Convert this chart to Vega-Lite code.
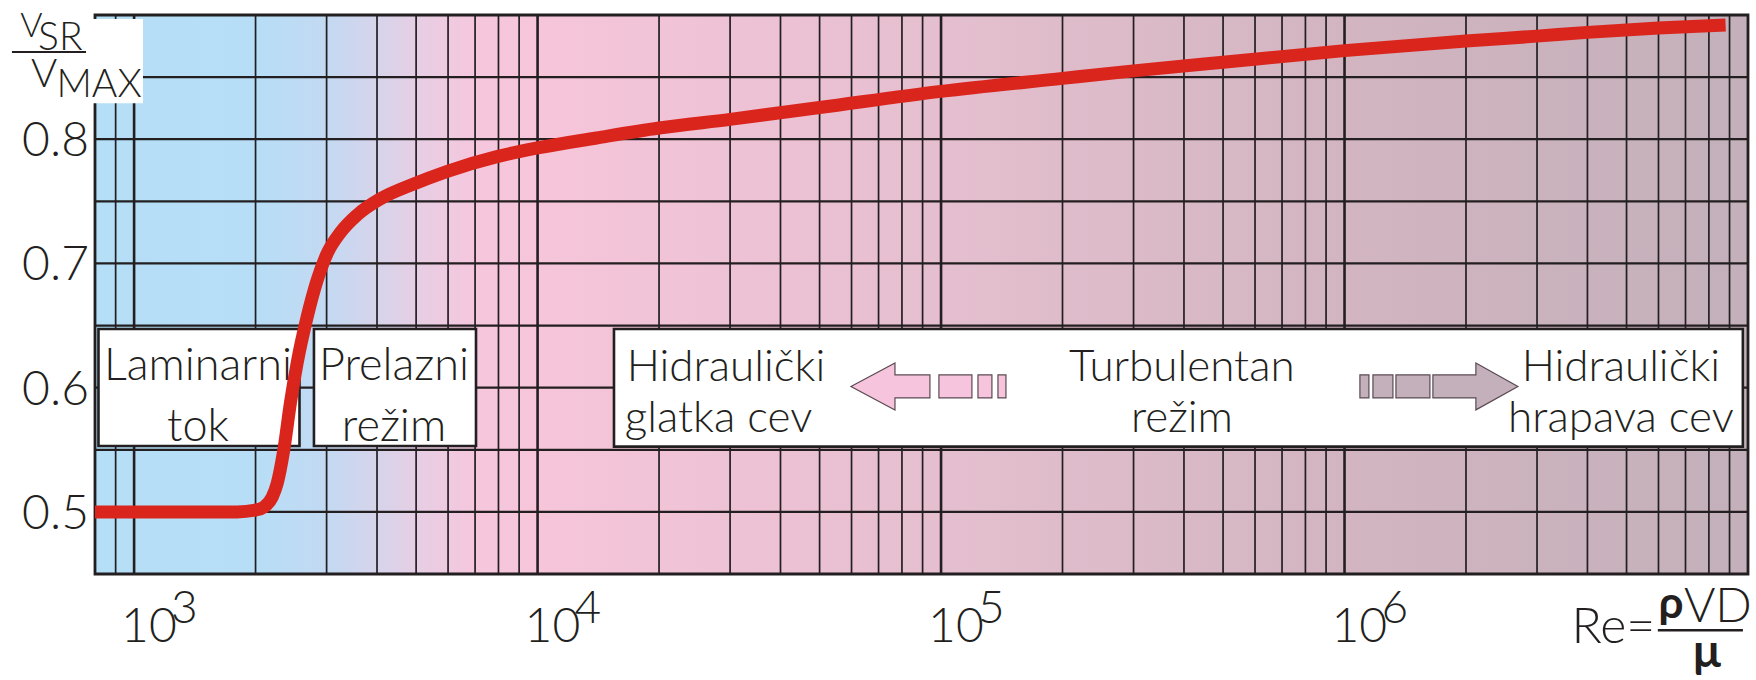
{
  "$schema": "https://vega.github.io/schema/vega-lite/v6.json",
  "width": 1653,
  "height": 559,
  "autosize": {"type": "none"},
  "padding": {"left": 95, "top": 15, "right": 8, "bottom": 106},
  "background": "white",
  "config": {"view": {"stroke": null}},
  "datasets": {
    "curve": [
      {"Re": 800, "v": 0.5}, {"Re": 1300, "v": 0.5}, {"Re": 1800, "v": 0.5}, {"Re": 2000, "v": 0.5015},
      {"Re": 2100, "v": 0.504}, {"Re": 2200, "v": 0.512}, {"Re": 2263, "v": 0.523}, {"Re": 2350, "v": 0.55},
      {"Re": 2441, "v": 0.588}, {"Re": 2536, "v": 0.62}, {"Re": 2685, "v": 0.657}, {"Re": 2842, "v": 0.6865},
      {"Re": 3009, "v": 0.708}, {"Re": 3247, "v": 0.725}, {"Re": 3570, "v": 0.739}, {"Re": 4077, "v": 0.752},
      {"Re": 4932, "v": 0.764}, {"Re": 5950, "v": 0.774}, {"Re": 7929, "v": 0.786}, {"Re": 10000, "v": 0.793},
      {"Re": 14000, "v": 0.801}, {"Re": 20000, "v": 0.809}, {"Re": 30000, "v": 0.816}, {"Re": 50000, "v": 0.8255},
      {"Re": 100000, "v": 0.8385}, {"Re": 200000, "v": 0.849}, {"Re": 300000, "v": 0.855}, {"Re": 500000, "v": 0.862},
      {"Re": 1000000, "v": 0.8713}, {"Re": 2000000, "v": 0.879}, {"Re": 3000000, "v": 0.883}, {"Re": 4000000, "v": 0.886},
      {"Re": 6000000, "v": 0.8895}, {"Re": 8800000, "v": 0.892}
    ],
    "vgrid": [
      {"Re": 900}, {"Re": 1000}, {"Re": 2000}, {"Re": 3000}, {"Re": 4000}, {"Re": 5000}, {"Re": 6000}, {"Re": 7000}, {"Re": 8000}, {"Re": 9000},
      {"Re": 10000}, {"Re": 20000}, {"Re": 30000}, {"Re": 40000}, {"Re": 50000}, {"Re": 60000}, {"Re": 70000}, {"Re": 80000}, {"Re": 90000},
      {"Re": 100000}, {"Re": 200000}, {"Re": 300000}, {"Re": 400000}, {"Re": 500000}, {"Re": 600000}, {"Re": 700000}, {"Re": 800000}, {"Re": 900000},
      {"Re": 1000000}, {"Re": 2000000}, {"Re": 3000000}, {"Re": 4000000}, {"Re": 5000000}, {"Re": 6000000}, {"Re": 7000000}, {"Re": 8000000}, {"Re": 9000000}
    ],
    "hgrid": [{"v": 0.5}, {"v": 0.55}, {"v": 0.6}, {"v": 0.65}, {"v": 0.7}, {"v": 0.75}, {"v": 0.8}, {"v": 0.85}],
    "ylabels": [{"v": 0.5, "t": "0.5"}, {"v": 0.6, "t": "0.6"}, {"v": 0.7, "t": "0.7"}, {"v": 0.8, "t": "0.8"}],
    "boxes": [
      {"ReFrom": 816, "ReTo": 2570, "vFrom": 0.553, "vTo": 0.6472},
      {"ReFrom": 2791, "ReTo": 7037, "vFrom": 0.553, "vTo": 0.6472},
      {"ReFrom": 15466, "ReTo": 9710000, "vFrom": 0.5525, "vTo": 0.6472}
    ],
    "smallBoxText": [
      {"t": "Laminarni", "Re": 1440, "v": 0.6061},
      {"t": "tok", "Re": 1440, "v": 0.557},
      {"t": "Prelazni", "Re": 4406, "v": 0.6061},
      {"t": "režim", "Re": 4406, "v": 0.557}
    ],
    "bigBoxText": [
      {"t": "Hidraulički", "Re": 29300, "v": 0.6053},
      {"t": "glatka cev", "Re": 28080, "v": 0.5645},
      {"t": "Turbulentan", "Re": 395300, "v": 0.6053},
      {"t": "režim", "Re": 395300, "v": 0.5645},
      {"t": "Hidraulički", "Re": 4842000, "v": 0.6053},
      {"t": "hrapava cev", "Re": 4842000, "v": 0.5645}
    ],
    "decades": [
      {"Re": 1000, "e": "3"}, {"Re": 10000, "e": "4"}, {"Re": 100000, "e": "5"}, {"Re": 1000000, "e": "6"}
    ]
  },
  "layer": [
    {
      "data": {"values": [{}]},
      "mark": {
        "type": "rect",
        "fill": {
          "gradient": "linear", "x1": 0, "y1": 0, "x2": 1, "y2": 0,
          "stops": [
            {"offset": 0, "color": "#b5dff7"},
            {"offset": 0.1, "color": "#b7def6"},
            {"offset": 0.14, "color": "#c3d9f2"},
            {"offset": 0.17, "color": "#d6d4eb"},
            {"offset": 0.2, "color": "#e9cde3"},
            {"offset": 0.23, "color": "#f5c7dd"},
            {"offset": 0.27, "color": "#f6c5da"},
            {"offset": 0.51, "color": "#e5bfcf"},
            {"offset": 0.755, "color": "#d2b5c1"},
            {"offset": 1, "color": "#c3b0ba"}
          ]
        }
      },
      "encoding": {
        "x": {"datum": 800, "type": "quantitative", "scale": {"type": "log", "domain": [800, 10000000], "nice": false}, "axis": null},
        "x2": {"datum": 10000000},
        "y": {"datum": 0.45, "type": "quantitative", "scale": {"domain": [0.45, 0.9], "nice": false, "zero": false}, "axis": null},
        "y2": {"datum": 0.9}
      }
    },
    {
      "data": {"name": "vgrid"},
      "mark": {"type": "rule", "color": "#231f20"},
      "encoding": {
        "x": {"field": "Re", "type": "quantitative", "scale": {"type": "log", "domain": [800, 10000000], "nice": false}, "axis": null},
        "y": {"datum": 0.45, "type": "quantitative", "scale": {"domain": [0.45, 0.9], "nice": false, "zero": false}, "axis": null},
        "y2": {"datum": 0.9},
        "strokeWidth": {"condition": {"test": "datum.Re == 1000 || datum.Re == 10000 || datum.Re == 100000 || datum.Re == 1000000", "value": 2.6}, "value": 1.7}
      }
    },
    {
      "data": {"name": "hgrid"},
      "mark": {"type": "rule", "color": "#231f20", "strokeWidth": 2.2},
      "encoding": {
        "y": {"field": "v", "type": "quantitative", "scale": {"domain": [0.45, 0.9], "nice": false, "zero": false}, "axis": null},
        "x": {"datum": 800, "type": "quantitative", "scale": {"type": "log", "domain": [800, 10000000], "nice": false}, "axis": null},
        "x2": {"datum": 10000000}
      }
    },
    {
      "data": {"values": [{}]},
      "mark": {"type": "rect", "fill": null, "fillOpacity": 0, "stroke": "#231f20", "strokeWidth": 2.8},
      "encoding": {
        "x": {"datum": 800, "type": "quantitative", "scale": {"type": "log", "domain": [800, 10000000], "nice": false}, "axis": null},
        "x2": {"datum": 10000000},
        "y": {"datum": 0.45, "type": "quantitative", "scale": {"domain": [0.45, 0.9], "nice": false, "zero": false}, "axis": null},
        "y2": {"datum": 0.9}
      }
    },
    {
      "data": {"name": "ylabels"},
      "mark": {"type": "text", "font": "Lato", "fontWeight": 300, "fontSize": 48, "align": "right", "baseline": "alphabetic", "color": "#231f20", "dx": -6, "dy": 17},
      "encoding": {
        "x": {"datum": 800, "type": "quantitative", "scale": {"type": "log", "domain": [800, 10000000], "nice": false}, "axis": null},
        "y": {"field": "v", "type": "quantitative", "scale": {"domain": [0.45, 0.9], "nice": false, "zero": false}, "axis": null},
        "text": {"field": "t"}
      }
    },
    {
      "data": {"name": "boxes"},
      "mark": {"type": "rect", "fill": "white", "stroke": "#231f20", "strokeWidth": 2.6},
      "encoding": {
        "x": {"field": "ReFrom", "type": "quantitative", "scale": {"type": "log", "domain": [800, 10000000], "nice": false}, "axis": null},
        "x2": {"field": "ReTo"},
        "y": {"field": "vFrom", "type": "quantitative", "scale": {"domain": [0.45, 0.9], "nice": false, "zero": false}, "axis": null},
        "y2": {"field": "vTo"}
      }
    },
    {
      "data": {"values": [{}]},
      "mark": {
        "type": "point", "filled": true, "opacity": 1, "size": 24025,
        "shape": "M-1,0 L-0.432,-0.303 L-0.432,-0.148 L0.019,-0.148 L0.019,0.148 L-0.432,0.148 L-0.432,0.303 Z M0.135,-0.148 L0.561,-0.148 L0.561,0.148 L0.135,0.148 Z M0.639,-0.148 L0.819,-0.148 L0.819,0.148 L0.639,0.148 Z M0.897,-0.148 L1,-0.148 L1,0.148 L0.897,0.148 Z",
        "fill": "#f6c4dc", "stroke": "#5a4a52", "strokeWidth": 1.2
      },
      "encoding": {
        "x": {"datum": 93060, "type": "quantitative", "scale": {"type": "log", "domain": [800, 10000000], "nice": false}, "axis": null},
        "y": {"datum": 0.601, "type": "quantitative", "scale": {"domain": [0.45, 0.9], "nice": false, "zero": false}, "axis": null}
      }
    },
    {
      "data": {"values": [{}]},
      "mark": {
        "type": "point", "filled": true, "opacity": 1, "size": 24964,
        "shape": "M-1,-0.145 L-0.886,-0.145 L-0.886,0.145 L-1,0.145 Z M-0.835,-0.145 L-0.582,-0.145 L-0.582,0.145 L-0.835,0.145 Z M-0.544,-0.145 L-0.114,-0.145 L-0.114,0.145 L-0.544,0.145 Z M-0.076,-0.145 L0.468,-0.145 L0.468,-0.297 L1,0 L0.468,0.297 L0.468,0.145 L-0.076,0.145 Z",
        "fill": "#c3b0bb", "stroke": "#5a4a52", "strokeWidth": 1.2
      },
      "encoding": {
        "x": {"datum": 1713700, "type": "quantitative", "scale": {"type": "log", "domain": [800, 10000000], "nice": false}, "axis": null},
        "y": {"datum": 0.601, "type": "quantitative", "scale": {"domain": [0.45, 0.9], "nice": false, "zero": false}, "axis": null}
      }
    },
    {
      "data": {"name": "smallBoxText"},
      "mark": {"type": "text", "font": "Lato", "fontWeight": 300, "fontSize": 45, "align": "center", "baseline": "alphabetic", "color": "#231f20"},
      "encoding": {
        "x": {"field": "Re", "type": "quantitative", "scale": {"type": "log", "domain": [800, 10000000], "nice": false}, "axis": null},
        "y": {"field": "v", "type": "quantitative", "scale": {"domain": [0.45, 0.9], "nice": false, "zero": false}, "axis": null},
        "text": {"field": "t"}
      }
    },
    {
      "data": {"name": "bigBoxText"},
      "mark": {"type": "text", "font": "Lato", "fontWeight": 300, "fontSize": 44, "align": "center", "baseline": "alphabetic", "color": "#231f20"},
      "encoding": {
        "x": {"field": "Re", "type": "quantitative", "scale": {"type": "log", "domain": [800, 10000000], "nice": false}, "axis": null},
        "y": {"field": "v", "type": "quantitative", "scale": {"domain": [0.45, 0.9], "nice": false, "zero": false}, "axis": null},
        "text": {"field": "t"}
      }
    },
    {
      "data": {"name": "curve"},
      "mark": {"type": "line", "color": "#da251d", "strokeWidth": 13, "strokeCap": "butt", "strokeJoin": "round", "interpolate": "monotone"},
      "encoding": {
        "x": {"field": "Re", "type": "quantitative", "scale": {"type": "log", "domain": [800, 10000000], "nice": false}, "axis": null},
        "y": {"field": "v", "type": "quantitative", "scale": {"domain": [0.45, 0.9], "nice": false, "zero": false}, "axis": null}
      }
    },
    {
      "data": {"values": [{}]},
      "mark": {"type": "rect", "fill": "white"},
      "encoding": {
        "x": {"datum": 700, "type": "quantitative", "scale": {"type": "log", "domain": [800, 10000000], "nice": false}, "axis": null},
        "x2": {"datum": 1052},
        "y": {"datum": 0.829, "type": "quantitative", "scale": {"domain": [0.45, 0.9], "nice": false, "zero": false}, "axis": null},
        "y2": {"datum": 0.8968}
      }
    },
    {
      "data": {"values": [{}]},
      "mark": {"type": "rule", "color": "#231f20", "strokeWidth": 2},
      "encoding": {
        "x": {"datum": 498, "type": "quantitative", "scale": {"type": "log", "domain": [800, 10000000], "nice": false}, "axis": null},
        "x2": {"datum": 760},
        "y": {"datum": 0.8702, "type": "quantitative", "scale": {"domain": [0.45, 0.9], "nice": false, "zero": false}, "axis": null}
      }
    },
    {
      "data": {"values": [{}]},
      "mark": {"type": "text", "text": "V", "font": "Lato", "fontWeight": 300, "fontSize": 34, "align": "left", "baseline": "alphabetic", "color": "#231f20"},
      "encoding": {
        "x": {"datum": 522, "type": "quantitative", "scale": {"type": "log", "domain": [800, 10000000], "nice": false}, "axis": null},
        "y": {"datum": 0.8823, "type": "quantitative", "scale": {"domain": [0.45, 0.9], "nice": false, "zero": false}, "axis": null}
      }
    },
    {
      "data": {"values": [{}]},
      "mark": {"type": "text", "text": "SR", "font": "Lato", "fontWeight": 300, "fontSize": 39, "align": "left", "baseline": "alphabetic", "color": "#231f20"},
      "encoding": {
        "x": {"datum": 578, "type": "quantitative", "scale": {"type": "log", "domain": [800, 10000000], "nice": false}, "axis": null},
        "y": {"datum": 0.8718, "type": "quantitative", "scale": {"domain": [0.45, 0.9], "nice": false, "zero": false}, "axis": null}
      }
    },
    {
      "data": {"values": [{}]},
      "mark": {"type": "text", "text": "V", "font": "Lato", "fontWeight": 300, "fontSize": 40, "align": "left", "baseline": "alphabetic", "color": "#231f20"},
      "encoding": {
        "x": {"datum": 555, "type": "quantitative", "scale": {"type": "log", "domain": [800, 10000000], "nice": false}, "axis": null},
        "y": {"datum": 0.842, "type": "quantitative", "scale": {"domain": [0.45, 0.9], "nice": false, "zero": false}, "axis": null}
      }
    },
    {
      "data": {"values": [{}]},
      "mark": {"type": "text", "text": "MAX", "font": "Lato", "fontWeight": 300, "fontSize": 39, "align": "left", "baseline": "alphabetic", "color": "#231f20"},
      "encoding": {
        "x": {"datum": 642, "type": "quantitative", "scale": {"type": "log", "domain": [800, 10000000], "nice": false}, "axis": null},
        "y": {"datum": 0.834, "type": "quantitative", "scale": {"domain": [0.45, 0.9], "nice": false, "zero": false}, "axis": null}
      }
    },
    {
      "data": {"name": "decades"},
      "mark": {"type": "text", "text": "10", "font": "Lato", "fontWeight": 300, "fontSize": 48, "align": "left", "baseline": "alphabetic", "color": "#231f20", "dx": -13},
      "encoding": {
        "x": {"field": "Re", "type": "quantitative", "scale": {"type": "log", "domain": [800, 10000000], "nice": false}, "axis": null},
        "y": {"datum": 0.3952, "type": "quantitative", "scale": {"domain": [0.45, 0.9], "nice": false, "zero": false}, "axis": null}
      }
    },
    {
      "data": {"name": "decades"},
      "mark": {"type": "text", "font": "Lato", "fontWeight": 300, "fontSize": 46, "align": "left", "baseline": "alphabetic", "color": "#231f20", "dx": 37},
      "encoding": {
        "x": {"field": "Re", "type": "quantitative", "scale": {"type": "log", "domain": [800, 10000000], "nice": false}, "axis": null},
        "y": {"datum": 0.4105, "type": "quantitative", "scale": {"domain": [0.45, 0.9], "nice": false, "zero": false}, "axis": null},
        "text": {"field": "e"}
      }
    },
    {
      "data": {"values": [{}]},
      "mark": {"type": "text", "text": "Re=", "font": "Lato", "fontWeight": 300, "fontSize": 50, "align": "left", "baseline": "alphabetic", "color": "#231f20"},
      "encoding": {
        "x": {"datum": 3650000, "type": "quantitative", "scale": {"type": "log", "domain": [800, 10000000], "nice": false}, "axis": null},
        "y": {"datum": 0.3944, "type": "quantitative", "scale": {"domain": [0.45, 0.9], "nice": false, "zero": false}, "axis": null}
      }
    },
    {
      "data": {"values": [{}]},
      "mark": {"type": "text", "text": "ρ", "font": "Lato", "fontWeight": 700, "fontSize": 44, "align": "left", "baseline": "alphabetic", "color": "#231f20"},
      "encoding": {
        "x": {"datum": 6000000, "type": "quantitative", "scale": {"type": "log", "domain": [800, 10000000], "nice": false}, "axis": null},
        "y": {"datum": 0.4148, "type": "quantitative", "scale": {"domain": [0.45, 0.9], "nice": false, "zero": false}, "axis": null}
      }
    },
    {
      "data": {"values": [{}]},
      "mark": {"type": "text", "text": "VD", "font": "Lato", "fontWeight": 300, "fontSize": 48, "align": "left", "baseline": "alphabetic", "color": "#231f20"},
      "encoding": {
        "x": {"datum": 6936000, "type": "quantitative", "scale": {"type": "log", "domain": [800, 10000000], "nice": false}, "axis": null},
        "y": {"datum": 0.4113, "type": "quantitative", "scale": {"domain": [0.45, 0.9], "nice": false, "zero": false}, "axis": null}
      }
    },
    {
      "data": {"values": [{}]},
      "mark": {"type": "rule", "color": "#231f20", "strokeWidth": 2.5},
      "encoding": {
        "x": {"datum": 5978000, "type": "quantitative", "scale": {"type": "log", "domain": [800, 10000000], "nice": false}, "axis": null},
        "x2": {"datum": 9714000},
        "y": {"datum": 0.4048, "type": "quantitative", "scale": {"domain": [0.45, 0.9], "nice": false, "zero": false}, "axis": null}
      }
    },
    {
      "data": {"values": [{}]},
      "mark": {"type": "text", "text": "μ", "font": "Lato", "fontWeight": 700, "fontSize": 46, "align": "left", "baseline": "alphabetic", "color": "#231f20"},
      "encoding": {
        "x": {"datum": 7303000, "type": "quantitative", "scale": {"type": "log", "domain": [800, 10000000], "nice": false}, "axis": null},
        "y": {"datum": 0.3755, "type": "quantitative", "scale": {"domain": [0.45, 0.9], "nice": false, "zero": false}, "axis": null}
      }
    }
  ]
}
